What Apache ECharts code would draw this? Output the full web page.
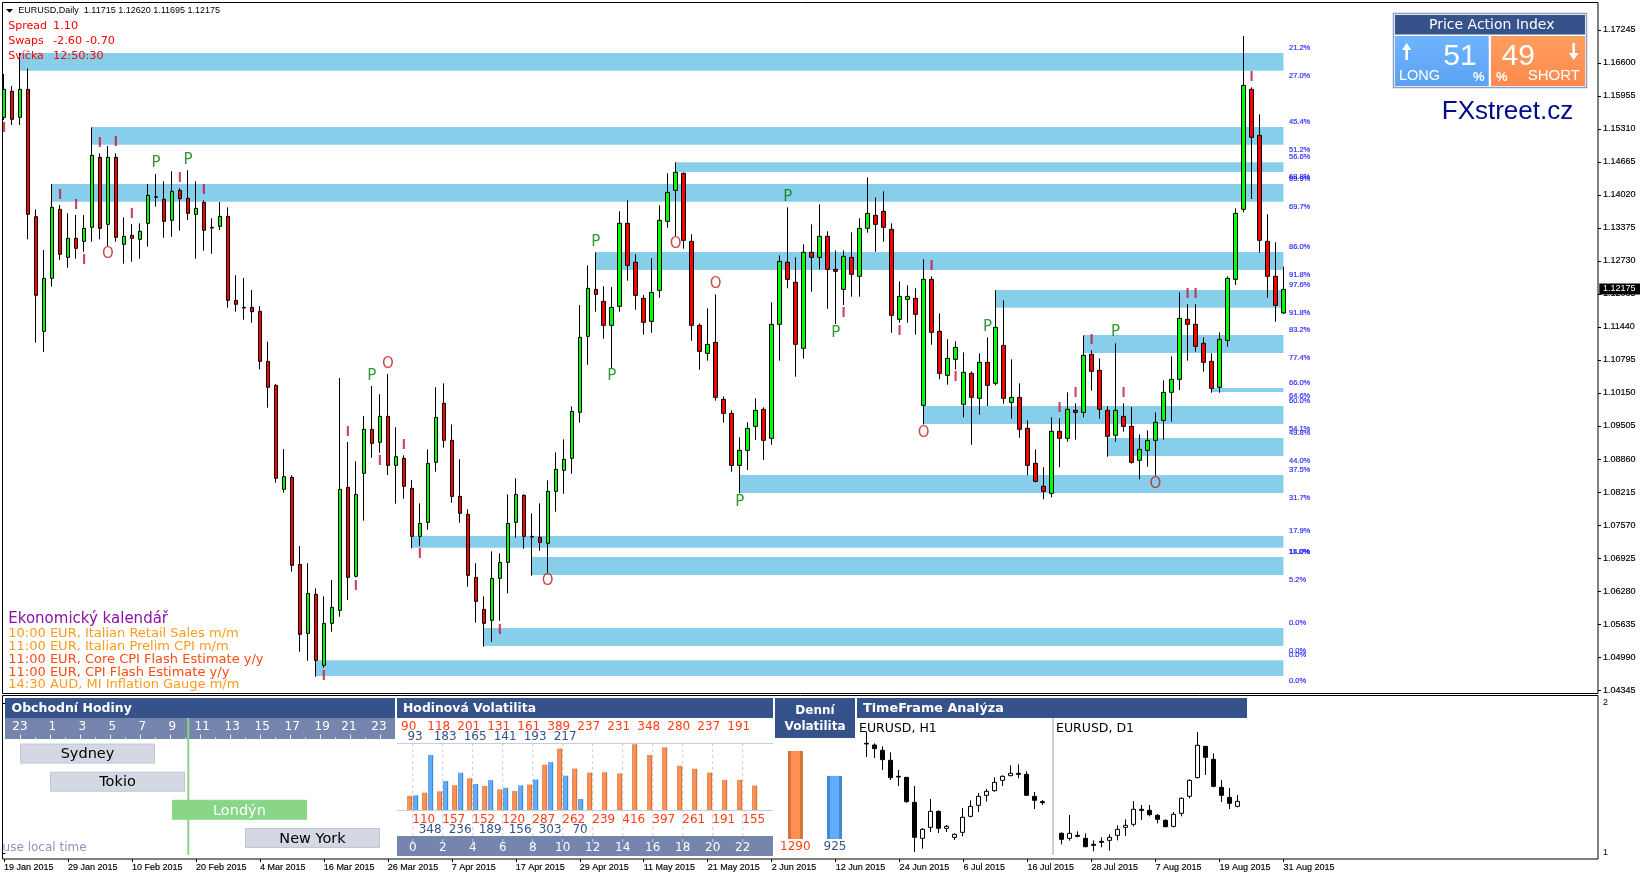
<!DOCTYPE html>
<html>
<head>
<meta charset="utf-8">
<style>html,body{margin:0;padding:0;background:#fff;overflow:hidden}#c{width:1640px;height:877px}</style>
<script src="https://cdn.jsdelivr.net/npm/echarts@6/dist/echarts.min.js"></script>
</head>
<body>
<div id="c"></div>
<script>
// EURUSD daily bars: open, close, low, high in points (1e-5)
const dailyBars = [
[115538,116085,115486,116385],[116046,115499,115388,116150],[115538,116085,115388,116795],[116085,113642,113153,116495],
[113596,112059,111134,113740],[111355,112391,110951,112945],[112391,113779,112228,114235],[113740,112860,112749,113824],
[112801,113173,112599,113661],[113173,112977,112775,113629],[113114,113368,112912,113629],[113388,114795,113108,115342],
[114756,113368,113153,114834],[113446,114756,113023,114977],[114756,113192,113108,114834],[113056,113212,112678,113583],
[113231,113173,112717,113453],[113153,113310,112775,113466],[113466,114013,113010,114235],[113987,113974,113792,114430],
[113935,113505,113186,114287],[113525,114091,113205,114482],[114111,113948,113323,114150],[113955,113661,113531,114502],
[113642,113759,112775,114287],[113876,113329,112932,113916],[113388,113375,112873,113564],[113407,113603,113336,113883],
[113603,111961,111818,113779],[111961,111883,111739,112450],[111824,111811,111583,112397],[111824,111739,111525,112163],
[111746,110769,110612,111850],[110769,110261,109863,111153],[110300,108482,108397,110326],[108267,108515,108202,109055],
[108502,106782,106658,108541],[106801,105433,105094,107159],[105452,106234,104918,106821],[106215,104925,104606,106332],
[104827,105648,104782,106176],[105648,105961,105485,106495],[105902,108267,105778,110443],[108306,106547,106104,109192],
[106567,108169,106547,108814],[108580,109440,107655,109700],[109440,109166,108886,110287],[109186,109694,108984,110124],
[109694,108736,108547,110521],[108736,108905,107987,109479],[108873,108326,108085,108932],[108287,107348,107114,108449],
[107348,107602,107159,107993],[107622,108775,107479,109049],[108795,109674,108612,110261],[109948,109225,109081,110339],
[109225,108130,108006,109537],[108130,107798,107615,108853],[107778,106586,106365,107876],[106547,106078,105661,106821],
[105922,105648,105192,106176],[105707,106527,105290,107055],[106527,106840,105700,107016],[106840,107602,106234,108169],
[107622,108169,107322,108482],[108150,107348,107107,108169],[107348,107335,106580,107798],[107329,107231,107068,107993],
[107212,108228,106638,108443],[108228,108658,107830,108990],[108638,108853,108182,109244],[108873,109791,108573,109889],
[109772,111238,109570,111870],[111257,112196,110704,112645],[112176,112078,111739,112899],[111941,111472,111212,112235],
[111472,111824,110638,112222],[111844,113466,111739,113700],[113466,112645,112345,113916],[112704,112059,111779,112860],
[112000,111531,111290,112065],[111551,112117,111329,112782],[112156,113525,112013,113818],[113505,114072,113381,114443],
[114111,114463,113218,114658],[114443,113134,112971,114463],[113114,111472,111173,113251],[111472,110964,110606,111511],
[110925,111101,110782,111805],[111140,110065,110000,112078],[110026,109752,109570,110085],[109752,108736,108612,109811],
[108736,109029,108189,109283],[109029,109459,108645,109577],[109498,109811,109231,110046],[109831,109225,108840,109870],
[109264,111492,109140,111922],[111492,112723,110782,112841],[112704,112371,112196,113779],[112313,111101,110469,112801],
[111023,112899,110821,113056],[112899,112801,112130,113446],[112801,113212,112567,113837],[113212,112567,111798,113310],
[112567,112528,111498,112938],[112176,112821,111870,112938],[112801,112469,112033,113290],[112430,113368,112033,113564],
[113368,113661,113284,114365],[113622,113446,112912,113974],[113700,113388,113108,114091],[113349,111668,111329,113466],
[111590,112039,111525,112332],[111981,112039,111525,112254],[112000,111687,111290,112196],[109909,112371,109537,112762],
[112371,111336,111094,112430],[111355,110534,110417,111707],[110495,110827,110313,111199],[110808,111042,110612,111160],
[109928,110554,109674,110945],[110534,110065,109140,110573],[110046,110749,109726,110925],[110749,110300,109896,111238],
[110339,111433,110300,112156],[111081,110046,109941,111961],[109967,110065,109648,110808],[110065,109440,109277,110339],
[109459,108736,108541,109616],[108775,108423,108404,109049],[108326,108228,108072,108697],[108189,109401,108111,109674],
[109401,109264,108697,109655],[109264,109831,109199,110163],[109811,109772,109238,109948],[109772,110886,109674,111277],
[110906,110573,110195,110984],[110593,109831,109648,110827],[109811,109303,108905,109889],[109323,109811,109199,111121],
[109694,109498,109394,109948],[109498,108795,108769,109876],[108834,109049,108462,109342],[109029,109225,108710,109420],
[109225,109577,108534,109772],[109616,110163,109238,110397],[110163,110417,109590,110866],[110417,111609,110208,112117],
[111590,111492,110782,111889],[111492,111062,110958,111889],[111121,110749,110567,111238],[110769,110241,110156,110925],
[110261,111199,110156,111336],[111179,112391,111055,112430],[112371,113661,112261,113759],[113740,116163,113681,117127],
[116085,115147,113942,116124],[115186,113134,112893,115596],[113114,112430,112013,113642],[112430,111863,111544,113095],
[111715,112175,111695,112620]];
const startDate = '2015-01-19';
const priceTicks = [1.17245,1.16600,1.15955,1.15310,1.14665,1.14020,1.13375,1.12730,1.12085,1.11440,1.10795,1.10150,1.09505,1.08860,1.08215,1.07570,1.06925,1.06280,1.05635,1.04990,1.04345];
const lastPrice = 1.12175;
// supply/demand zones: first bar, upper price, lower price (points)
const zones = [[2,116795,116449],[11,115349,115003],[6,114235,113889],[84,114659,114469],[74,112906,112554],[124,112163,111817],
[135,111283,110932],[151,110248,110169],[115,109896,109544],[138,109270,108918],[92,108547,108195],[51,107355,107126],
[66,106944,106593],[60,105557,105205],[39,104925,104619]];
const zonePctLabels = [[116887,'21.2%'],[116346,'27.0%'],[115447,'45.4%'],[114899,'51.2%'],[114762,'56.6%'],[114377,'68.8%'],[114338,'69.9%'],
[113785,'69.7%'],[113003,'86.0%'],[112456,'91.8%'],[112261,'97.6%'],[111713,'91.8%'],[111381,'83.2%'],[110834,'77.4%'],[110345,'66.0%'],
[110091,'64.6%'],[109993,'60.0%'],[109452,'54.1%'],[109362,'49.8%'],[108821,'44.0%'],[108645,'37.5%'],[108098,'31.7%'],[107453,'17.9%'],
[107036,'14.0%'],[107036,'11.0%'],[106495,'5.2%'],[105654,'0.0%'],[105107,'0.0%'],[105029,'0.0%'],[104521,'0.0%']];
const markersP = [[19,114639],[23,114704],[46,110482],[74,113101],[76,110488],[92,108025],[98,113987],[104,111328],[123,111440],[139,111348]];
const markersO = [[13,112867],[48,110717],[68,106475],[84,113062],[89,112280],[115,109368],[144,108371]];
const markersI = [[0,115335],[7,114026],[9,113830],[10,112749],[12,115042],[14,115061],[16,113654],[22,114358],[25,114123],[40,104625],
[43,109393],[44,106384],[47,108827],[50,109133],[52,107009],[62,105518],[105,111713],[112,111362],[116,112632],[119,110468],[132,109857],
[134,110144],[136,111186],[140,110144],[148,112085],[149,112085],[156,116332]];
// trading sessions: name, start and end hour slot on the strip
const sessionNames = ['Sydney','Tokio','Londýn','New York'];
const sessionStart = [0,2,10.13,15];
const sessionEnd = [9,11,19.13,24];
const sessionHourLabels = ['23','1','3','5','7','9','11','13','15','17','19','21','23'];
const sessionLabelSlots = [0,2.15,4.15,6.15,8.15,10.15,12.15,14.15,16.15,18.15,20.15,21.93,23.93];
const sessionTickSlots = [0,2,4,6,8,10,12,14,16,18,20,22,24];
const nowSlot = 11.22;
// hourly volatility
const hours = ['0','1','2','3','4','5','6','7','8','9','10','11','12','13','14','15','16','17','18','19','20','21','22','23'];
const volOrange = [90,110,118,157,201,152,131,120,161,287,389,262,237,239,231,416,348,397,280,261,237,191,191,155];
const volBlue = [93,348,183,236,165,189,141,156,193,303,217,70,null,null,null,null,null,null,null,null,null,null,null,null];
const dayVolNames = ['up','down'];
const dayVol = [1290,925];
// mini charts: open, close, low, high in points
const h1Bars = [[113400,113380,112990,113750],[113350,113240,112960,113400],[113190,112910,112600,113310],[112890,112370,112300,113130],
[112410,112390,112120,112600],[112380,111650,111620,112380],[111630,110580,110140,112120],[110550,110820,110240,110860],[110880,111360,110740,111730],
[111360,110850,110710,111390],[110850,110910,110740,110950],[110580,110670,110500,110700],[110730,111180,110610,111460],[111210,111510,111180,111690],
[111540,111810,111340,111910],[111840,111960,111650,112030],[111980,112230,111950,112380],[112290,112410,112120,112440],[112430,112500,112410,112740],
[112500,112470,112350,112770],[112470,111840,111820,112560],[111810,111690,111430,111940],[111650,111620,111550,111700]];
const d1Bars = [[110700,110520,110370,110730],[110550,110700,110480,111250],[110640,110610,110580,110760],[110550,110300,110280,110700],
[110370,110340,110160,110490],[110460,110430,110280,110580],[110490,110580,110180,110670],[110640,110820,110490,110940],[110880,110940,110620,111120],
[110970,111420,110910,111670],[111420,111390,111100,111550],[111390,111260,111210,111550],[111240,111120,111000,111280],[111090,110900,110880,111120],
[110910,111270,110880,111340],[111300,111750,111210,111780],[111810,112290,111750,112320],[112370,113340,112350,113740],[113310,112980,112450,113310],
[112920,112110,112080,113100],[112080,111840,111640,112300],[111780,111600,111430,112060],[111510,111660,111480,111850]];

const P = v => v / 1e5;
const toCandle = r => r.map(P);
const MON = ['Jan','Feb','Mar','Apr','May','Jun','Jul','Aug','Sep','Oct','Nov','Dec'];
const categories = [];
{ const d = new Date(startDate + 'T12:00:00Z');
  while (categories.length < dailyBars.length) {
    const wd = d.getUTCDay();
    if (wd > 0 && wd < 6) categories.push(d.getUTCDate() + ' ' + MON[d.getUTCMonth()] + ' 2015');
    d.setUTCDate(d.getUTCDate() + 1);
  }
  while (categories.length < 200) categories.push('');
}
const NAVY = '#36528a', STRIP = '#7585ad', GRAY = '#c8cdd8', RED = '#ff3c14';
const SANS = '"Liberation Sans"', DJ = '"DejaVu Sans"';

const rect = (x,y,w,h,fill,z,extra) => ({type:'rect',shape:{x,y,width:w,height:h},style:Object.assign({fill},extra||{}),z:z===undefined?-1:z,silent:true});
const txt = (x,y,text,fill,font,align,z) => ({type:'text',x,y,z:z===undefined?100:z,silent:true,style:{text,fill,font,align:align||'left',textAlign:align||'left',verticalAlign:'middle',textVerticalAlign:'middle'}});
const hline = (x1,x2,y,c,z) => ({type:'line',shape:{x1,y1:y,x2,y2:y},style:{stroke:c,lineWidth:1},z:z===undefined?-1:z,silent:true});
const poly = (pts,fill,z) => ({type:'polygon',shape:{points:pts},style:{fill},z:z===undefined?100:z,silent:true});

const volLeft = 405.2, volStep = 15;
const hc = h => volLeft + volStep*(h+0.5);
const g = [];
// chart frames
g.push(rect(0,0,2,877,'#fff',40));
g.push(rect(2.5,2.5,1595.5,691,'none',50,{stroke:'#000',lineWidth:1}));
g.push(rect(2.5,695.5,1595.5,163.5,'none',50,{stroke:'#000',lineWidth:1}));
// top-left info
g.push(poly([[6,9],[13,9],[9.5,12.8]],'#000'));
g.push(txt(18.3,10.7,'EURUSD,Daily  1.11715 1.12620 1.11695 1.12175','#000','9px '+SANS));
[['Spread','1.10',26],['Swaps','-2.60 -0.70',41],['Svíčka','12:50:30',56]].forEach(r=>{
  g.push(txt(8.3,r[2],r[0],'#ff0000','11px '+DJ));
  g.push(txt(53,r[2],r[1],'#ff0000','11.3px '+DJ));
});
// economic calendar
g.push(txt(8.3,619.5,'Ekonomický kalendář','#8b0fa8','15px '+DJ));
[['10:00 EUR, Italian Retail Sales m/m','#ff9a1e',633.2],['11:00 EUR, Italian Prelim CPI m/m','#ff9a1e',646.2],
 ['11:00 EUR, Core CPI Flash Estimate y/y','#ff4a10',659.2],['11:00 EUR, CPI Flash Estimate y/y','#ff4a10',672.2],
 ['14:30 AUD, MI Inflation Gauge m/m','#ff9a1e',685]].forEach(r=>g.push(txt(8.3,r[2],r[0],r[1],'13px '+DJ)));
// price action index box
g.push(rect(1393.5,13.5,193,74,'#fff',10,{stroke:'#8f9fc0',lineWidth:1.5}));
g.push(rect(1395,15,190,19.5,NAVY,11));
g.push(rect(1395,36,93.7,50,{type:'linear',x:0,y:0,x2:0,y2:1,colorStops:[{offset:0,color:'#6fb4ff'},{offset:1,color:'#5aa2f2'}]},11));
g.push(rect(1491,36,94,50,{type:'linear',x:0,y:0,x2:0,y2:1,colorStops:[{offset:0,color:'#ff9d60'},{offset:1,color:'#ff8a4d'}]},11));
g.push(txt(1491.7,25.5,'Price Action Index','#fff','14px '+DJ,'center'));
g.push(txt(1460,56.5,'51','#fff','30px '+SANS,'center'));
g.push(txt(1518.3,56.5,'49','#fff','30px '+SANS,'center'));
g.push(txt(1399,75.5,'LONG','#fff','14.5px '+SANS));
g.push(txt(1478.7,77,'%','#fff','bold 13px '+SANS,'center'));
g.push(txt(1501.7,77,'%','#fff','bold 13px '+SANS,'center'));
g.push(txt(1580,75.5,'SHORT','#fff','15px '+SANS,'right'));
g.push(poly([[1406.7,43],[1411.5,50],[1408,50],[1408,60],[1405.4,60],[1405.4,50],[1402,50]],'#fff'));
g.push(poly([[1573.7,60],[1578.5,53],[1575,53],[1575,43],[1572.4,43],[1572.4,53],[1569,53]],'#fff'));
g.push(txt(1507.5,111.5,'FXstreet.cz','#000a8c','26px '+SANS,'center'));
// lower panels: headers and strips
g.push(rect(5,698,390,20,NAVY));
g.push(rect(5,718,390,21,STRIP));
g.push(txt(11.5,708.7,'Obchodní Hodiny','#fff','bold 12.5px '+DJ));
g.push(txt(2.6,848,'use local time','#8b96c0','12px '+DJ));
g.push(rect(397,698,376,20,NAVY));
g.push(txt(403,708.7,'Hodinová Volatilita','#fff','bold 12.4px '+DJ));
g.push(hline(397,773,743.5,GRAY));
g.push(hline(397,773,810.5,GRAY));
g.push(rect(397,836,376,20,STRIP,-2));
for (let h=0;h<24;h+=2) g.push({type:'line',shape:{x1:hc(h),y1:743,x2:hc(h),y2:842},style:{stroke:GRAY,lineWidth:1,lineDash:[3,3]},z:-1,silent:true});
for (let i=0;i<12;i++) {
  g.push(txt(hc(2*i)-4,727.2,String(volOrange[2*i]),RED,'12px '+DJ,'center'));
  g.push(txt(hc(2*i+1)-4,820,String(volOrange[2*i+1]),RED,'12px '+DJ,'center'));
  if (volBlue[2*i]!==null) g.push(txt(hc(2*i)+2.4,737,String(volBlue[2*i]),NAVY,'12px '+DJ,'center'));
  if (volBlue[2*i+1]!==null) g.push(txt(hc(2*i+1)+2.4,830,String(volBlue[2*i+1]),NAVY,'12px '+DJ,'center'));
}
g.push(rect(775,698,80,40,NAVY));
g.push(txt(815,711,'Denní','#fff','bold 12px '+DJ,'center'));
g.push(txt(815,727,'Volatilita','#fff','bold 12px '+DJ,'center'));
g.push(txt(795.3,847,String(dayVol[0]),RED,'12px '+DJ,'center'));
g.push(txt(835,847,String(dayVol[1]),NAVY,'12px '+DJ,'center'));
g.push(rect(857,698,390,20,NAVY));
g.push(txt(863,708.7,'TimeFrame Analýza','#fff','bold 12.8px '+DJ));
g.push(txt(859,728.7,'EURUSD, H1','#000','12.5px '+DJ));
g.push(txt(1056,728.7,'EURUSD, D1','#000','12.5px '+DJ));
g.push(rect(1052,718,2,137,GRAY));

const barFill = (dark,bright) => ({type:'linear',x:0,y:0,x2:1,y2:0,colorStops:[
 {offset:0,color:dark},{offset:.2,color:dark},{offset:.2,color:bright},{offset:.8,color:bright},{offset:.8,color:dark},{offset:1,color:dark}]});
const ORANGE = barFill('#d4773c','#ff8f52'), BLUE = barFill('#3f8ccf','#62acff');

const textScatter = (name,data,text,color,family,size,weight) => ({
  type:'scatter',name,xAxisIndex:0,yAxisIndex:0,symbolSize:1,itemStyle:{color:'transparent'},silent:true,z:6,
  data:data.map(d=>[d[0],P(d[1])]),
  label:{show:true,position:'inside',formatter:text,color,fontFamily:family,fontSize:size,fontWeight:weight||'normal'}
});
const miniCandle = (idx,data) => ({type:'candlestick',xAxisIndex:idx,yAxisIndex:idx,data:data.map(toCandle),barWidth:4,silent:true,
  itemStyle:{color:'#ffffff',color0:'#000000',borderColor:'#000',borderColor0:'#000',borderColorDoji:'#000',borderWidth:1}});
const miniX = (i,n) => ({type:'category',gridIndex:i,data:Array.from({length:n},(_,k)=>String(k)),show:false,boundaryGap:true});
const miniY = i => ({type:'value',gridIndex:i,min:1.10,max:1.138,show:false,scale:true,splitLine:{show:false}});
const showDate = i => i%8===0 && i<=160;

const option = {
  animation:false,
  backgroundColor:'#fff',
  graphic:{elements:g},
  grid:[
    {left:-0.67,top:2,width:1600,height:691},
    {left:20,top:739.5,width:360,height:112.5},
    {left:volLeft,top:743.3,width:360,height:66.7},
    {left:776,top:751,width:78,height:88},
    {left:862.7,top:730,width:184,height:126.67},
    {left:1057.3,top:730,width:184,height:126.67},
    {left:2.5,top:695,width:1595.5,height:164}
  ],
  xAxis:[
    {type:'category',gridIndex:0,data:categories,position:'bottom',offset:166,boundaryGap:true,
      axisLine:{show:false},splitLine:{show:false},
      axisTick:{show:true,alignWithLabel:true,interval:showDate,length:3,lineStyle:{color:'#000'}},
      axisLabel:{interval:showDate,align:'left',margin:4,color:'#000',fontFamily:'Liberation Sans',fontSize:9,textBorderColor:'#000',textBorderWidth:0.15}},
    {type:'value',gridIndex:1,min:0,max:24,interval:2,position:'top',splitLine:{show:false},axisLine:{show:false},
      axisTick:{show:true,length:5,customValues:sessionTickSlots,lineStyle:{color:'#e6e9f2'}},minorTick:{show:true,splitNumber:2,length:2,lineStyle:{color:'#e6e9f2'}},
      axisLabel:{customValues:sessionLabelSlots,margin:7,color:'#fff',fontFamily:'DejaVu Sans',fontSize:12,
        formatter:v=>sessionHourLabels[sessionLabelSlots.indexOf(v)]}},
    {type:'category',gridIndex:2,data:hours,axisTick:{show:false},axisLine:{show:false},
      axisLabel:{interval:1,margin:32,color:'#fff',fontFamily:'DejaVu Sans',fontSize:12}},
    {type:'category',gridIndex:3,data:dayVolNames,show:false},
    miniX(4,h1Bars.length),miniX(5,d1Bars.length),
    {type:'value',gridIndex:6,min:0,max:1,show:false}
  ],
  yAxis:[
    {type:'value',gridIndex:0,position:'right',offset:-1.33,min:1.04287,max:1.17792,scale:true,splitLine:{show:false},
      axisLine:{show:false},
      axisTick:{show:true,length:3,customValues:priceTicks,lineStyle:{color:'#000'}},
      axisLabel:{customValues:priceTicks,margin:5,color:'#000',fontFamily:'Liberation Sans',fontSize:9,textBorderColor:'#000',textBorderWidth:0.15,formatter:v=>v.toFixed(5)}},
    {type:'category',gridIndex:1,data:sessionNames,inverse:true,show:false},
    {type:'value',gridIndex:2,min:0,max:422,show:false,splitLine:{show:false}},
    {type:'value',gridIndex:3,min:0,max:1290,show:false,splitLine:{show:false}},
    miniY(4),miniY(5),
    {type:'value',gridIndex:6,position:'right',min:0.9587,max:2.052,splitLine:{show:false},axisLine:{show:false},
      axisTick:{show:true,length:3,customValues:[1,2],lineStyle:{color:'#000'}},
      axisLabel:{customValues:[1,2],margin:5,color:'#000',fontFamily:'Liberation Sans',fontSize:9}}
  ],
  series:[
    {type:'custom',name:'zones',xAxisIndex:0,yAxisIndex:0,z:1,silent:true,
      data:zones.map(z=>[z[0],P(z[1]),P(z[2])]),encode:{x:0,y:[1,2]},
      renderItem:(p,api)=>{
        const a=api.coord([api.value(0),api.value(1)]), b=api.coord([dailyBars.length-1,api.value(2)]);
        return {type:'rect',shape:{x:a[0],y:a[1],width:b[0]-a[0],height:b[1]-a[1]},style:{fill:'#87ceeb'}};
      }},
    {type:'candlestick',name:'EURUSD',xAxisIndex:0,yAxisIndex:0,z:3,silent:true,barWidth:4,
      data:dailyBars.map(toCandle),
      itemStyle:{color:'#00ff00',color0:'#ff0000',borderColor:'#000',borderColor0:'#000',borderColorDoji:'#000',borderWidth:1}},
    textScatter('P',markersP,'P','#008000','DejaVu Sans',15),
    textScatter('O',markersO,'O','#c01818','DejaVu Sans',15),
    textScatter('I',markersI,'I','#c8143c','Liberation Sans',15,'bold'),
    {type:'scatter',name:'pct',xAxisIndex:0,yAxisIndex:0,symbolSize:1,itemStyle:{color:'transparent'},silent:true,z:6,
      data:zonePctLabels.map(d=>[dailyBars.length,P(d[0]),d[1]]),
      label:{show:true,position:'right',distance:-3,formatter:p=>p.value[2],color:'#0000ff',fontFamily:'Liberation Sans',fontSize:7.5,textBorderColor:'#0000ff',textBorderWidth:0.2}},
    {type:'custom',name:'last',xAxisIndex:0,yAxisIndex:0,z:8,silent:true,data:[[dailyBars.length-1,lastPrice]],encode:{x:0,y:1},clip:false,
      renderItem:(p,api)=>{
        const y=api.coord([api.value(0),api.value(1)])[1];
        return {type:'group',children:[
          {type:'rect',shape:{x:1599.3,y:y-6,width:41,height:11},style:{fill:'#000'}},
          {type:'text',style:{x:1603,y:y-0.5,text:lastPrice.toFixed(5),fill:'#fff',font:'9px '+SANS,align:'left',verticalAlign:'middle',textAlign:'left',textVerticalAlign:'middle'}}
        ]};
      }},
    {type:'custom',name:'sessions',xAxisIndex:1,yAxisIndex:1,z:3,silent:true,
      data:sessionNames.map((n,i)=>[i,sessionStart[i],sessionEnd[i]]),encode:{x:[1,2],y:0},
      renderItem:(p,api)=>{
        const i=p.dataIndex, a=api.coord([sessionStart[i],i]), b=api.coord([sessionEnd[i],i]);
        const isOn=sessionNames[i]==='Londýn';
        return {type:'group',children:[
          {type:'rect',shape:{x:a[0]+.5,y:a[1]-9.5,width:b[0]-a[0]-1,height:19},style:{fill:isOn?'#88d688':'#d3d8e3',stroke:isOn?'#88d688':'#bcc6da',lineWidth:1}},
          {type:'text',style:{x:(a[0]+b[0])/2,y:a[1]+1,text:sessionNames[i],fill:isOn?'#fff':'#000',font:'14.5px '+DJ,align:'center',verticalAlign:'middle',textAlign:'center',textVerticalAlign:'middle'}}
        ]};
      }},
    {type:'custom',name:'now',xAxisIndex:1,yAxisIndex:1,z:2,silent:true,data:[[nowSlot,0]],encode:{x:0,y:1},clip:false,
      renderItem:(p,api)=>{
        const x=api.coord([api.value(0),0])[0];
        return {type:'rect',shape:{x:x-1,y:p.coordSys.y-21.5,width:2,height:137},style:{fill:'#88d688'}};
      }},
    {type:'bar',name:'volA',xAxisIndex:2,yAxisIndex:2,data:volOrange,barWidth:5,barGap:'20%',itemStyle:{color:ORANGE},silent:true},
    {type:'bar',name:'volB',xAxisIndex:2,yAxisIndex:2,data:volBlue,barWidth:5,barGap:'20%',itemStyle:{color:BLUE},silent:true},
    {type:'bar',name:'dayVol',xAxisIndex:3,yAxisIndex:3,barWidth:15,silent:true,
      data:[{value:dayVol[0],itemStyle:{color:ORANGE}},{value:dayVol[1],itemStyle:{color:BLUE}}]},
    miniCandle(4,h1Bars),
    miniCandle(5,d1Bars)
  ]
};
const chart = echarts.init(document.getElementById('c'),null,{renderer:'canvas',width:1640,height:877});
chart.setOption(option);
</script>
</body>
</html>
